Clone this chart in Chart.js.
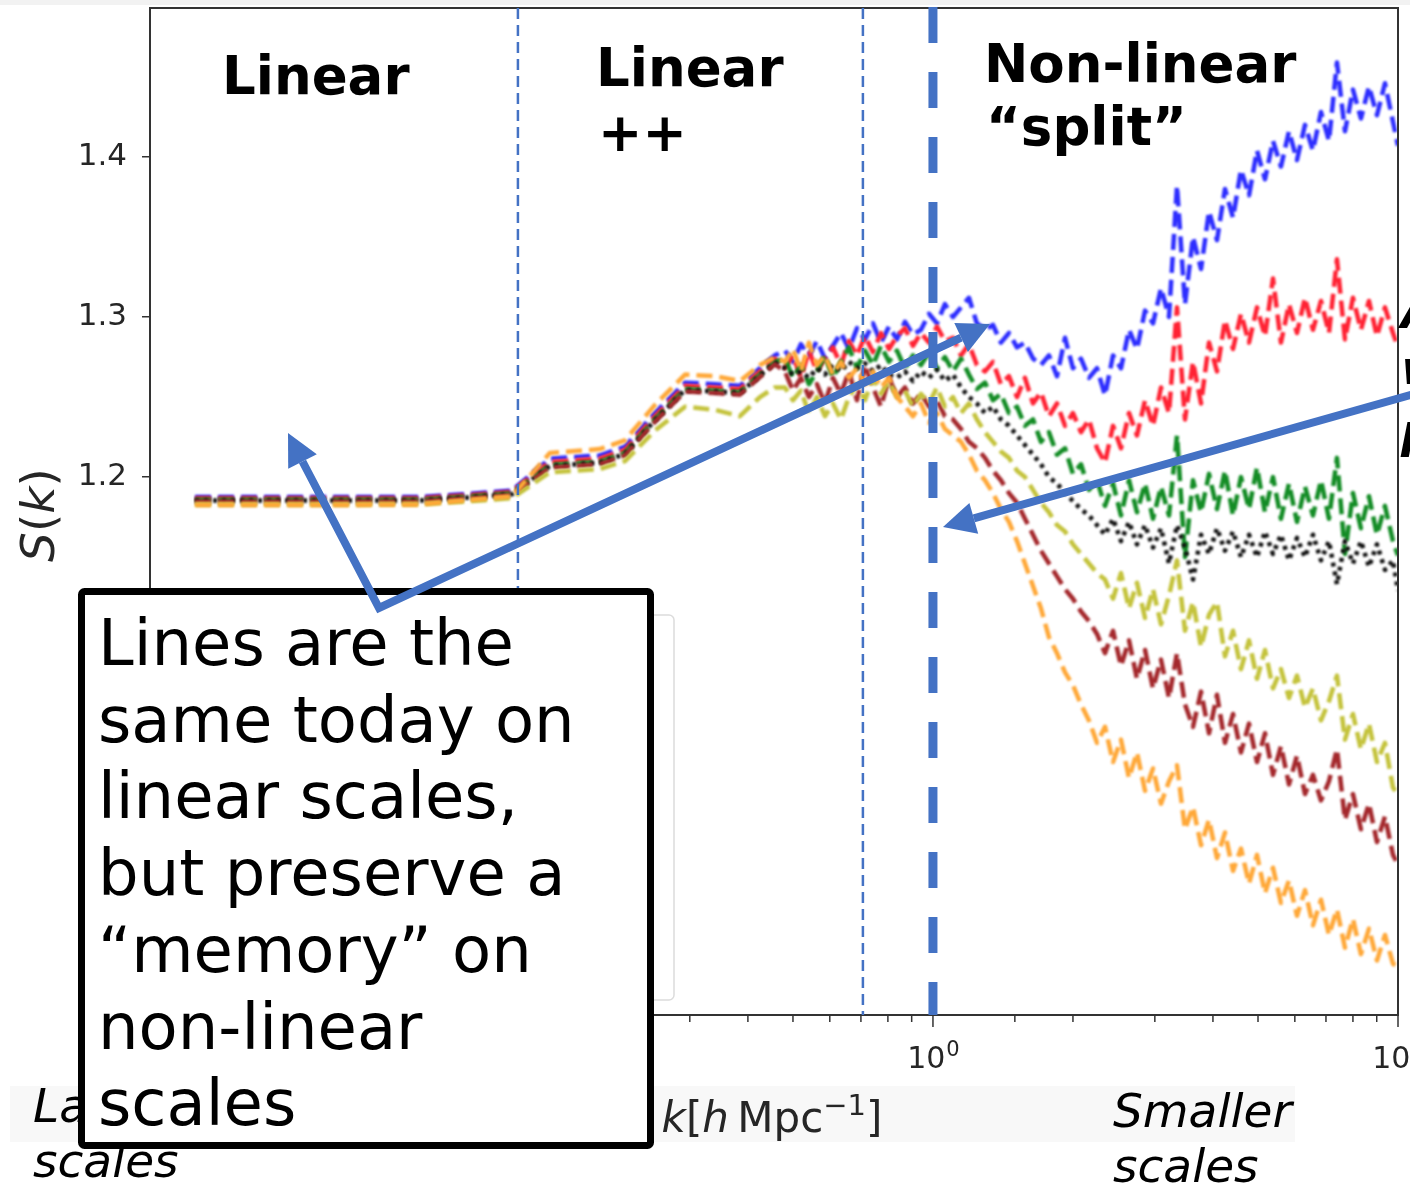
<!DOCTYPE html>
<html>
<head>
<meta charset="utf-8">
<script src="https://cdn.jsdelivr.net/npm/chart.js@4.4.1/dist/chart.umd.min.js"></script>
<style>
  html, body { margin: 0; padding: 0; background: #fff; }
  body { width: 1410px; height: 1187px; overflow: hidden; position: relative; }
  #chart, #notes { position: absolute; left: 0; top: 0; }
</style>
</head>
<body>
<canvas id="chart" width="1410" height="1187"></canvas>
<svg id="notes" xmlns="http://www.w3.org/2000/svg" width="1410" height="1187" font-family="DejaVu Sans">
  <rect x="0" y="0" width="1410" height="5" fill="#f2f2f2"/>
  <rect x="10" y="1086" width="1285" height="56" fill="#f8f8f8"/>

  <!-- axis titles -->
  <text transform="translate(54,515) rotate(-90)" text-anchor="middle" font-size="47" fill="#262626"><tspan font-style="italic">S</tspan>(<tspan font-style="italic">k</tspan>)</text>
  <text x="772" y="1132" text-anchor="middle" font-size="42" fill="#262626"><tspan font-style="italic">k</tspan>[<tspan font-style="italic">h</tspan>&#8201;Mpc<tspan font-size="29" dy="-17">−1</tspan><tspan dy="17">]</tspan></text>

  <!-- regime labels -->
  <g font-weight="bold" font-size="53" fill="#000">
    <text x="222" y="94">Linear</text>
    <text x="596" y="86">Linear</text>
    <text x="598" y="151">++</text>
    <text x="984" y="82">Non-linear</text>
    <text x="986" y="145">“split”</text>
  </g>
  <g font-weight="bold" font-style="italic" font-size="47" fill="#000">
    <text x="1401" y="328">A</text>
    <text x="1401" y="384">w</text>
    <text x="1401" y="447">p</text>
  </g>

  <g font-style="italic" font-size="47" fill="#000">
    <text x="33" y="1122">Larger</text>
    <text x="33" y="1177">scales</text>
    <text x="1113" y="1127">Smaller</text>
    <text x="1113" y="1182">scales</text>
  </g>

  <!-- legend frame sitting under the callout -->
  <rect x="420" y="615" width="254" height="385" rx="5" fill="#fff" stroke="#dcdcdc" stroke-width="1.5"/>

  <!-- callout box -->
  <rect x="81.5" y="591.5" width="569" height="554" rx="3" fill="#fff" stroke="#000" stroke-width="7"/>
  <g font-size="64" fill="#000">
    <text x="98" y="665">Lines are the</text>
    <text x="98" y="741.7">same today on</text>
    <text x="98" y="818.4">linear scales,</text>
    <text x="98" y="895.1">but preserve a</text>
    <text x="98" y="971.8">“memory” on</text>
    <text x="98" y="1048.5">non-linear</text>
    <text x="98" y="1125.2">scales</text>
  </g>

  <!-- arrows -->
  <g stroke="#4472c4" stroke-width="8" fill="none">
    <polyline points="302.5,461.5 379,608 961.1,337.6" stroke-linejoin="miter"/>
    <line x1="1412" y1="394.5" x2="973.8" y2="518.3"/>
  </g>
  <g fill="#4472c4">
    <polygon points="288,433 316.8,454.2 288.2,468.8"/>
    <polygon points="990,324 967.9,352.1 954.3,323.1"/>
    <polygon points="943,527 969.4,502.9 978.2,533.7"/>
  </g>
</svg>
<script>
// wavenumbers k [h/Mpc], shared by every curve
const kValues = [
  0.0259, 0.0505, 0.0788, 0.101, 0.1244, 0.150, 0.192, 0.2176, 0.2524, 0.293, 0.340, 0.3845, 0.4246, 0.457,
  0.4806, 0.500, 0.5201, 0.5411, 0.5630, 0.5857, 0.6093, 0.6339, 0.6597, 0.6864,
  0.7142, 0.7430, 0.7731, 0.8043, 0.8368, 0.8706, 0.9058, 0.9424, 0.9804, 1.020,
  1.061, 1.104, 1.149, 1.195, 1.243, 1.294, 1.346, 1.400, 1.457, 1.516,
  1.577, 1.641, 1.707, 1.776, 1.848, 1.923, 2.000, 2.081, 2.165, 2.253,
  2.344, 2.439, 2.537, 2.640, 2.746, 2.858, 2.973, 3.093, 3.218, 3.348,
  3.483, 3.624, 3.771, 3.923, 4.081, 4.246, 4.418, 4.596, 4.782, 4.975,
  5.176, 5.385, 5.602, 5.829, 6.064, 6.310, 6.564, 6.830, 7.105, 7.392,
  7.691, 8.001, 8.324, 8.661, 9.011, 9.375, 9.754, 10.0
];

const sBlue = [
  1.1875, 1.1875, 1.1875, 1.1895, 1.1915, 1.2115, 1.2135, 1.2190, 1.2400, 1.2590, 1.2580, 1.2570, 1.2680, 1.2760,
  1.279, 1.272, 1.283, 1.276, 1.285, 1.274, 1.282, 1.290, 1.280, 1.293,
  1.286, 1.296, 1.284, 1.294, 1.286, 1.297, 1.289, 1.292, 1.302, 1.296,
  1.308, 1.300, 1.306, 1.312, 1.296, 1.292, 1.295, 1.284, 1.290, 1.281,
  1.284, 1.274, 1.270, 1.276, 1.263, 1.287, 1.268, 1.274, 1.262, 1.268,
  1.251, 1.276, 1.268, 1.292, 1.280, 1.304, 1.296, 1.318, 1.300, 1.382,
  1.308, 1.350, 1.330, 1.366, 1.348, 1.380, 1.362, 1.392, 1.376, 1.404,
  1.386, 1.410, 1.394, 1.416, 1.398, 1.420, 1.404, 1.428, 1.410, 1.459,
  1.416, 1.442, 1.424, 1.444, 1.426, 1.446, 1.422, 1.407
];
const sRed = [
  1.1868, 1.1868, 1.1868, 1.1888, 1.1908, 1.2095, 1.2115, 1.2170, 1.2380, 1.2570, 1.2560, 1.2550, 1.2660, 1.2740,
  1.268, 1.276, 1.262, 1.279, 1.266, 1.274, 1.281, 1.270, 1.285, 1.276,
  1.288, 1.278, 1.290, 1.280, 1.288, 1.293, 1.282, 1.290, 1.284, 1.294,
  1.285, 1.287, 1.276, 1.283, 1.270, 1.266, 1.272, 1.258, 1.263, 1.250,
  1.262, 1.246, 1.253, 1.238, 1.246, 1.232, 1.240, 1.228, 1.236, 1.218,
  1.209, 1.232, 1.218, 1.240, 1.226, 1.248, 1.232, 1.256, 1.240, 1.306,
  1.236, 1.272, 1.246, 1.284, 1.266, 1.298, 1.280, 1.302, 1.284, 1.306,
  1.288, 1.324, 1.284, 1.308, 1.290, 1.312, 1.292, 1.310, 1.290, 1.336,
  1.286, 1.312, 1.292, 1.310, 1.288, 1.306, 1.290, 1.281
];
const sGreen = [
  1.1858, 1.1858, 1.1858, 1.1878, 1.1898, 1.2075, 1.2095, 1.2150, 1.2360, 1.2550, 1.2540, 1.2530, 1.2640, 1.2720,
  1.274, 1.262, 1.270, 1.258, 1.266, 1.276, 1.262, 1.272, 1.281, 1.268,
  1.279, 1.270, 1.282, 1.272, 1.279, 1.268, 1.276, 1.270, 1.278, 1.268,
  1.275, 1.266, 1.274, 1.264, 1.255, 1.259, 1.248, 1.252, 1.240, 1.244,
  1.232, 1.236, 1.222, 1.228, 1.214, 1.218, 1.202, 1.208, 1.192, 1.198,
  1.182, 1.196, 1.176, 1.198, 1.178, 1.196, 1.174, 1.194, 1.176, 1.226,
  1.150, 1.198, 1.178, 1.202, 1.180, 1.204, 1.176, 1.200, 1.180, 1.206,
  1.178, 1.200, 1.174, 1.196, 1.172, 1.194, 1.176, 1.198, 1.174, 1.212,
  1.152, 1.190, 1.168, 1.188, 1.164, 1.182, 1.160, 1.151
];
const sBlack = [
  1.1853, 1.1853, 1.1853, 1.1873, 1.1893, 1.2070, 1.2090, 1.2145, 1.2355, 1.2545, 1.2535, 1.2525, 1.2635, 1.2715,
  1.268, 1.264, 1.266, 1.262, 1.268, 1.264, 1.270, 1.266, 1.272, 1.268,
  1.271, 1.266, 1.270, 1.264, 1.262, 1.266, 1.260, 1.266, 1.262, 1.267,
  1.260, 1.264, 1.256, 1.250, 1.246, 1.240, 1.244, 1.236, 1.232, 1.226,
  1.220, 1.214, 1.208, 1.200, 1.196, 1.190, 1.185, 1.180, 1.176, 1.170,
  1.164, 1.174, 1.160, 1.172, 1.158, 1.170, 1.156, 1.168, 1.146, 1.170,
  1.156, 1.136, 1.164, 1.152, 1.168, 1.154, 1.166, 1.150, 1.164, 1.150,
  1.166, 1.152, 1.164, 1.148, 1.162, 1.150, 1.164, 1.148, 1.160, 1.133,
  1.160, 1.146, 1.160, 1.144, 1.158, 1.142, 1.148, 1.129
];
const sOlive = [
  1.1830, 1.1830, 1.1832, 1.1850, 1.1868, 1.2030, 1.2050, 1.2100, 1.2290, 1.2440, 1.2420, 1.2380, 1.2500, 1.2560,
  1.256, 1.248, 1.254, 1.240, 1.250, 1.238, 1.246, 1.236, 1.250, 1.258,
  1.248, 1.262, 1.252, 1.260, 1.250, 1.254, 1.244, 1.252, 1.246, 1.256,
  1.244, 1.250, 1.240, 1.246, 1.236, 1.228, 1.222, 1.216, 1.212, 1.204,
  1.200, 1.192, 1.184, 1.178, 1.170, 1.166, 1.158, 1.152, 1.146, 1.140,
  1.136, 1.124, 1.140, 1.118, 1.134, 1.112, 1.130, 1.108, 1.126, 1.148,
  1.104, 1.122, 1.094, 1.114, 1.122, 1.088, 1.104, 1.080, 1.098, 1.074,
  1.092, 1.068, 1.080, 1.062, 1.076, 1.056, 1.068, 1.048, 1.060, 1.076,
  1.036, 1.052, 1.030, 1.046, 1.022, 1.034, 1.006, 1.002
];
const sBrown = [
  1.1848, 1.1848, 1.1848, 1.1868, 1.1888, 1.2060, 1.2080, 1.2135, 1.2345, 1.2535, 1.2525, 1.2515, 1.2625, 1.2705,
  1.266, 1.254, 1.262, 1.250, 1.258, 1.246, 1.262, 1.252, 1.266, 1.248,
  1.270, 1.256, 1.244, 1.262, 1.250, 1.256, 1.246, 1.252, 1.244, 1.248,
  1.238, 1.236, 1.230, 1.222, 1.218, 1.212, 1.204, 1.198, 1.190, 1.184,
  1.174, 1.164, 1.154, 1.146, 1.138, 1.130, 1.124, 1.116, 1.110, 1.102,
  1.090, 1.104, 1.082, 1.098, 1.074, 1.092, 1.068, 1.086, 1.062, 1.090,
  1.058, 1.044, 1.066, 1.040, 1.064, 1.034, 1.052, 1.028, 1.046, 1.022,
  1.040, 1.014, 1.032, 1.008, 1.026, 1.002, 1.014, 0.998, 1.010, 1.030,
  0.986, 1.002, 0.980, 0.996, 0.972, 0.988, 0.964, 0.958
];
const sOrange = [
  1.1825, 1.1825, 1.1828, 1.1858, 1.1880, 1.2150, 1.2175, 1.2230, 1.2450, 1.2640, 1.2630, 1.2600, 1.2700, 1.2750,
  1.272, 1.280, 1.266, 1.284, 1.270, 1.276, 1.264, 1.272, 1.262, 1.268,
  1.258, 1.266, 1.256, 1.262, 1.250, 1.244, 1.238, 1.246, 1.234, 1.240,
  1.230, 1.226, 1.222, 1.214, 1.204, 1.198, 1.190, 1.180, 1.172, 1.160,
  1.146, 1.132, 1.118, 1.100, 1.090, 1.078, 1.070, 1.058, 1.048, 1.034,
  1.044, 1.022, 1.036, 1.012, 1.028, 1.004, 1.018, 0.996, 1.010, 1.020,
  0.980, 0.994, 0.970, 0.986, 0.962, 0.978, 0.954, 0.968, 0.946, 0.964,
  0.940, 0.956, 0.934, 0.948, 0.926, 0.942, 0.920, 0.936, 0.914, 0.930,
  0.906, 0.924, 0.902, 0.918, 0.898, 0.914, 0.896, 0.894
];

// regime boundaries in k
const boundaryK = [0.1281, 0.7069];
const splitK = 1.0;

const curves = [
  { label: 'orange', values: sOrange, color: '#ffa838' },
  { label: 'olive', values: sOlive, color: '#c4c33c' },
  { label: 'brown', values: sBrown, color: '#a4282c' },
  { label: 'black', values: sBlack, color: '#111111', dotted: true },
  { label: 'green', values: sGreen, color: '#138c25' },
  { label: 'red', values: sRed, color: '#ff2233' },
  { label: 'blue', values: sBlue, color: '#2d2dff' }
];

function isDecade(v) {
  const e = Math.log10(v);
  return Math.abs(e - Math.round(e)) < 1e-6;
}

// fixed axis boxes so the plot frame lands where it should
function fixBox(width, height) {
  return s => {
    if (width !== null) s.width = width;
    if (height !== null) s.height = height;
    s.paddingTop = 0;
    s.paddingBottom = 0;
    s.paddingLeft = 0;
    s.paddingRight = 0;
  };
}

const overlay = {
  id: 'overlay',
  beforeDatasetsDraw(chart) {
    chart.ctx.save();
    chart.ctx.filter = 'blur(0.8px)';
  },
  afterDatasetsDraw(chart) {
    const { ctx, chartArea: a, scales: { x } } = chart;
    ctx.restore();
    ctx.save();

    // top and right spines
    ctx.strokeStyle = '#333';
    ctx.lineWidth = 2;
    ctx.beginPath();
    ctx.moveTo(a.left, a.top);
    ctx.lineTo(a.right, a.top);
    ctx.lineTo(a.right, a.bottom);
    ctx.stroke();

    // log ticks along k, with 10^n labels on the decades
    ctx.lineWidth = 1.5;
    ctx.fillStyle = '#262626';
    x.ticks.forEach(t => {
      const px = x.getPixelForValue(t.value);
      const major = isDecade(t.value);
      ctx.beginPath();
      ctx.moveTo(px, a.bottom);
      ctx.lineTo(px, a.bottom + (major ? 12 : 7));
      ctx.stroke();
      if (major) {
        const exp = String(Math.round(Math.log10(t.value))).replace('-', '−');
        ctx.font = '30px "DejaVu Sans"';
        const wBase = ctx.measureText('10').width;
        ctx.font = '21px "DejaVu Sans"';
        const wExp = ctx.measureText(exp).width;
        const x0 = px - (wBase + wExp) / 2;
        ctx.font = '30px "DejaVu Sans"';
        ctx.fillText('10', x0, a.bottom + 53);
        ctx.font = '21px "DejaVu Sans"';
        ctx.fillText(exp, x0 + wBase + 1, a.bottom + 41);
      }
    });

    // regime boundaries
    ctx.strokeStyle = '#4472c4';
    ctx.lineWidth = 2.5;
    ctx.setLineDash([11, 6]);
    boundaryK.forEach(k => {
      const px = x.getPixelForValue(k);
      ctx.beginPath();
      ctx.moveTo(px, a.top);
      ctx.lineTo(px, a.bottom);
      ctx.stroke();
    });

    const sx = x.getPixelForValue(splitK);
    ctx.lineWidth = 9;
    ctx.setLineDash([36, 29]);
    ctx.beginPath();
    ctx.moveTo(sx, a.top - 1);
    ctx.lineTo(sx, a.bottom);
    ctx.stroke();
    ctx.restore();
  }
};

new Chart(document.getElementById('chart'), {
  type: 'line',
  data: {
    datasets: curves.map(c => ({
      label: c.label,
      data: kValues.map((k, i) => ({ x: k, y: c.values[i] })),
      borderColor: c.color,
      borderWidth: 4.5,
      borderDash: c.dotted ? [4, 5] : [16, 7],
      borderJoinStyle: 'round',
      pointRadius: 0,
      tension: 0,
      fill: false
    }))
  },
  options: {
    responsive: false,
    devicePixelRatio: 1,
    animation: false,
    events: [],
    layout: { autoPadding: false, padding: { left: 0, top: 8, right: 12, bottom: 0 } },
    plugins: { legend: { display: false }, tooltip: { enabled: false } },
    scales: {
      x: {
        type: 'logarithmic',
        min: 0.02072,
        max: 10,
        afterFit: fixBox(null, 172),
        grid: { display: false },
        border: { display: true, color: '#333', width: 2 },
        ticks: { display: false }
      },
      y: {
        min: 0.864,
        max: 1.493,
        afterFit: fixBox(150, null),
        grid: { display: true, drawOnChartArea: false, drawTicks: true, tickLength: 8, color: '#333', lineWidth: 1.5 },
        border: { display: true, color: '#333', width: 2 },
        ticks: {
          stepSize: 0.1,
          includeBounds: false,
          padding: 15,
          color: '#262626',
          font: { family: 'DejaVu Sans', size: 31 },
          callback: v => v.toFixed(1)
        }
      }
    }
  },
  plugins: [overlay]
});
</script>
</body>
</html>
